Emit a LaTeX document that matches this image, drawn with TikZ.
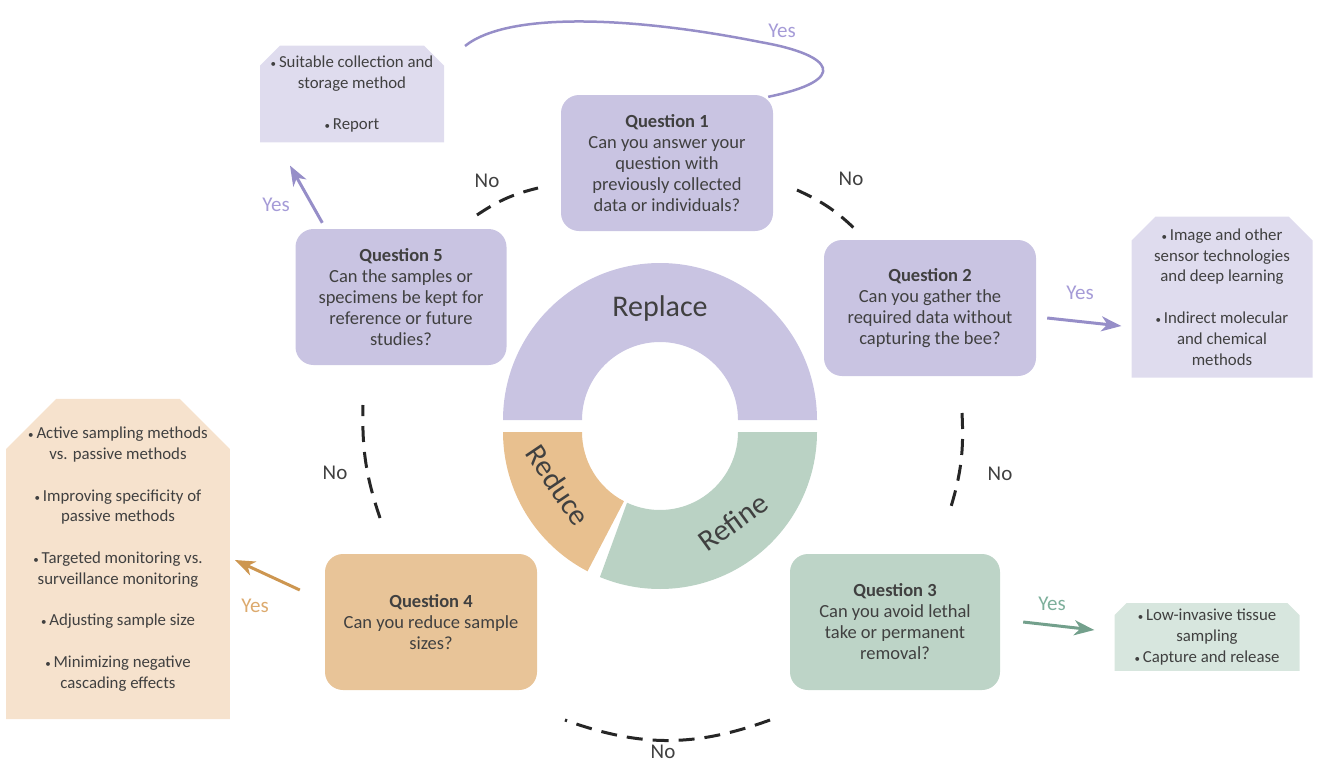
\documentclass[tikz,border=0pt]{standalone}
\usepackage{fontspec}
\setmainfont{Carlito}
\usetikzlibrary{calc,positioning,shapes.misc,arrows.meta}
\definecolor{txt}{RGB}{64,64,64}
\definecolor{qpurple}{RGB}{201,196,226}
\definecolor{opurple}{RGB}{223,220,238}
\definecolor{qorange}{RGB}{232,196,152}
\definecolor{oorange}{RGB}{246,226,205}
\definecolor{qgreen}{RGB}{189,212,199}
\definecolor{ogreen}{RGB}{215,230,222}
\definecolor{rreduce}{RGB}{232,192,143}
\definecolor{rrefine}{RGB}{186,210,196}
\definecolor{apurple}{RGB}{150,142,200}
\definecolor{aorange}{RGB}{205,150,80}
\definecolor{agreen}{RGB}{115,160,140}
\definecolor{ypurple}{RGB}{165,155,215}
\definecolor{yorange}{RGB}{220,170,110}
\definecolor{ygreen}{RGB}{125,175,155}
\newcommand{\bul}{{\fontsize{11}{11}\selectfont•}\,}

\begin{document}
\begin{tikzpicture}[x=1pt,y=-1pt,
  quest/.style={rounded corners=18pt,align=center,text=txt,font=\fontsize{18.5}{21}\selectfont,minimum width=212pt,minimum height=136pt,inner sep=0pt},
  outc/.style={chamfered rectangle,chamfered rectangle corners={north west,north east},align=center,text=txt,font=\fontsize{16.8}{20.8}\selectfont,inner sep=0pt},
  yesarr/.style={-{Stealth[length=20pt,width=15pt,inset=6pt]},line width=3pt},
  nodash/.style={dash pattern=on 16pt off 10pt,line width=3pt,black!85},
  ringtxt/.style={text=txt,font=\fontsize{30}{34}\selectfont,inner sep=0pt},
  lbl/.style={font=\fontsize{21}{24}\selectfont}]
  \useasboundingbox (0,0) rectangle (1317,764);

  % ring
  \fill[qpurple] (503,420) arc[start angle=180,end angle=360,radius=157] -- (738,420) arc[start angle=0,end angle=-180,radius=78] -- cycle;
  \fill[rreduce] (503,432) arc[start angle=180,end angle=117.5,radius=157] -- ($(660,432)+(117.5:78)$) arc[start angle=117.5,end angle=180,radius=78] -- cycle;
  \fill[rrefine] ($(660,432)+(112.5:157)$) arc[start angle=112.5,end angle=0,radius=157] -- (738,432) arc[start angle=0,end angle=115,radius=78] -- cycle;
  \node[ringtxt] (replace) at (660,308) {Replace};
  \node[ringtxt,rotate=-56] (reduce) at (558,485) {Reduce};
  \node[ringtxt,rotate=36] (refine) at (733,522) {Refine};

  % questions
  \node[quest,fill=qpurple] (q1) at (667,163) {\textbf{Question 1}\\Can you answer your\\question with\\previously collected\\data or individuals?};
  \node[quest,fill=qpurple] (q2) at (930,308) {\textbf{Question 2}\\Can you gather the\\required data without\\capturing the bee?};
  \node[quest,fill=qgreen,minimum width=210pt] (q3) at (895,622) {\textbf{Question 3}\\Can you avoid lethal\\take or permanent\\removal?};
  \node[quest,fill=qorange] (q4) at (431,622) {\textbf{Question 4}\\Can you reduce sample\\sizes?};
  \node[quest,fill=qpurple,minimum width=211pt] (q5) at (401,297) {\textbf{Question 5}\\Can the samples or\\specimens be kept for\\reference or future\\studies?};

  % outcomes
  \node[outc,fill=opurple,minimum width=184pt,minimum height=92pt,chamfered rectangle xsep=10pt,chamfered rectangle ysep=10pt] (out5) at (352,94) {\bul Suitable collection and\\storage method\\[20.8pt]\bul Report};
  \node[outc,fill=opurple,minimum width=181pt,minimum height=161pt,chamfered rectangle xsep=12pt,chamfered rectangle ysep=12pt] (out2) at (1222,297) {\bul Image and other\\sensor technologies\\and deep learning\\[20.8pt]\bul Indirect molecular\\and chemical\\methods};
  \node[outc,fill=ogreen,minimum width=185pt,minimum height=67pt,chamfered rectangle xsep=6pt,chamfered rectangle ysep=6pt] (out3) at (1207,637) {\bul Low-invasive tissue\\sampling\\\bul Capture and release};
  \node[outc,fill=oorange,minimum width=219pt,minimum height=312pt,chamfered rectangle xsep=22pt,chamfered rectangle ysep=28pt] (out4) at (118,559) {\bul Active sampling methods\\vs. passive methods\\[20.8pt]\bul Improving specificity of\\passive methods\\[20.8pt]\bul Targeted monitoring vs.\\surveillance monitoring\\[20.8pt]\bul Adjusting sample size\\[20.8pt]\bul Minimizing negative\\cascading effects};

  % yes
  \coordinate (loopend) at (465,46);
  \draw[apurple,line width=2.5pt] ([shift={(-5,2)}]q1.north east) .. controls (850,80) and (835,55) .. (760,42) .. controls (640,18) and (510,10) .. (loopend);
  \draw[yesarr,apurple] ([shift={(27,-6)}]q5.north west) -- ([shift={(-62,23)}]out5.south);
  \draw[yesarr,apurple] ([shift={(11,10)}]q2.east) -- ([shift={(-10,29)}]out2.west);
  \draw[yesarr,agreen] ([shift={(23,0)}]q3.east) -- ([shift={(-20,-7)}]out3.west);
  \draw[yesarr,aorange] ([shift={(-25,-32)}]q4.west) -- ([shift={(5,1)}]out4.east);
  \node[lbl,text=ypurple] (y1) at (782,31) {Yes};
  \node[lbl,text=ypurple] (y5) at (276,205) {Yes};
  \node[lbl,text=ypurple] (y2) at (1080,293) {Yes};
  \node[lbl,text=ygreen] (y3) at (1052,604) {Yes};
  \node[lbl,text=yorange] (y4) at (255,606) {Yes};

  % no
  \coordinate (n1a) at (797,190); \coordinate (n1b) at (858,232);
  \coordinate (n2a) at (962,413); \coordinate (n2b) at (950,510);
  \coordinate (n3a) at (770,720); \coordinate (n3b) at (565,720);
  \coordinate (n4a) at (380,518); \coordinate (n4b) at (363,405);
  \coordinate (n5a) at (477,215); \coordinate (n5b) at (538,188);
  \draw[nodash] (n1a) to[bend left=10] (n1b);
  \draw[nodash] (n2a) to[bend left=10] (n2b);
  \draw[nodash] (n3a) to[bend left=20] (n3b);
  \draw[nodash] (n4a) to[bend left=10] (n4b);
  \draw[nodash] (n5a) to[bend left=10] (n5b);
  \node[lbl,text=txt] (no1) at (851,179) {No};
  \node[lbl,text=txt] (no2) at (1000,474) {No};
  \node[lbl,text=txt] (no3) at (663,752) {No};
  \node[lbl,text=txt] (no4) at (335,473) {No};
  \node[lbl,text=txt] (no5) at (487,181) {No};
\end{tikzpicture}
\end{document}
